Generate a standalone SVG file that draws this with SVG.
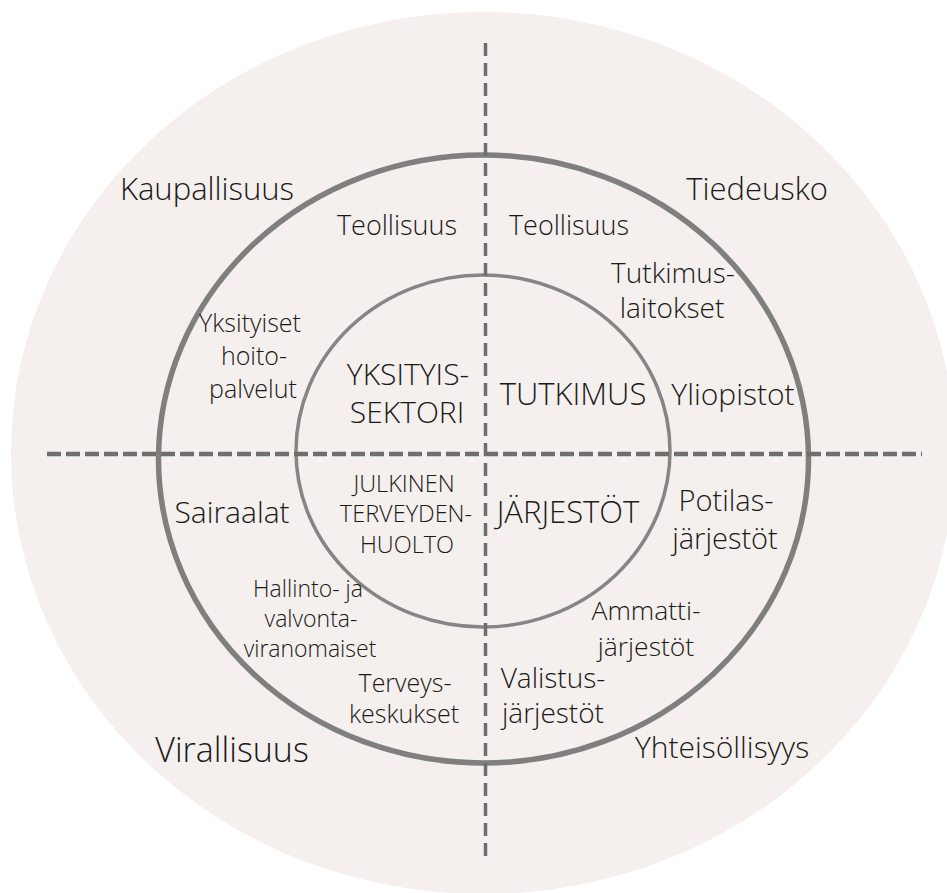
<svg xmlns="http://www.w3.org/2000/svg" width="947" height="893" viewBox="0 0 947 893">
<style>
text{font-family:"Open Sans","Liberation Sans",sans-serif;font-weight:300;fill:#1a1a1a;text-anchor:middle}
.xl{font-size:31px}
.big{font-size:30px}
.b29{font-size:29px}
.mid{font-size:28px}
.m27{font-size:27px}
.m26{font-size:26.5px}
.sm{font-size:25px}
.sm2{font-size:23px}
.cap{font-size:23.5px}
.dv{stroke:#6e6e6e;stroke-width:3.5;stroke-dasharray:13 7;fill:none}
.dh{stroke:#6e6e6e;stroke-width:4.5;stroke-dasharray:14 5;fill:none}
</style>
<rect width="947" height="893" fill="#ffffff"/>
<g id="background"><ellipse cx="483" cy="453" rx="472" ry="441" fill="#f5efed"/></g>
<g id="outer-ring"><ellipse cx="483.5" cy="459" rx="325" ry="304" fill="none" stroke="#7f7f7f" stroke-width="5.5"/></g>
<g id="inner-ring"><ellipse cx="483" cy="451" rx="187" ry="176" fill="none" stroke="#858585" stroke-width="3.5"/></g>
<g id="connectors">
<line class="dv" x1="485.5" y1="43" x2="485.5" y2="858"/>
<line class="dh" x1="47" y1="454" x2="922" y2="454"/>
</g>
<g id="corner-labels">
<text class="xl" x="207" y="200">Kaupallisuus</text>
<text class="xl" x="757" y="200">Tiedeusko</text>
<text style="font-size:34px" x="232" y="762">Virallisuus</text>
<text class="big" x="722" y="758">Yhteisöllisyys</text>
</g>
<g id="q1-outer">
<text class="m27" x="397" y="235">Teollisuus</text>
<text class="sm" x="250" y="332">Yksityiset</text>
<text class="sm" x="254" y="365">hoito-</text>
<text class="sm" x="253" y="398">palvelut</text>
</g>
<g id="q2-outer">
<text class="m27" x="569" y="235">Teollisuus</text>
<text class="mid" x="673" y="283">Tutkimus-</text>
<text class="mid" x="672" y="318">laitokset</text>
<text class="big" x="733" y="405">Yliopistot</text>
</g>
<g id="center">
<text class="big" x="408" y="385">YKSITYIS-</text>
<text class="big" x="407" y="423">SEKTORI</text>
<text class="xl" x="573" y="405">TUTKIMUS</text>
<text class="cap" x="404" y="492">JULKINEN</text>
<text class="cap" x="406" y="522">TERVEYDEN-</text>
<text class="cap" x="407" y="553">HUOLTO</text>
<text class="xl" x="568" y="523">JÄRJESTÖT</text>
</g>
<g id="q3-outer">
<text class="big" x="232" y="523">Sairaalat</text>
<text class="sm2" x="308" y="597">Hallinto- ja</text>
<text class="sm2" x="311" y="627">valvonta-</text>
<text class="sm2" x="310" y="657">viranomaiset</text>
<text class="sm" x="405" y="692">Terveys-</text>
<text class="sm" x="404" y="723">keskukset</text>
</g>
<g id="q4-outer">
<text class="b29" x="726" y="511">Potilas-</text>
<text class="b29" x="725" y="549">järjestöt</text>
<text class="m26" x="646" y="620">Ammatti-</text>
<text class="m26" x="646" y="656">järjestöt</text>
<text class="mid" x="553" y="688">Valistus-</text>
<text class="mid" x="553" y="723">järjestöt</text>
</g>
</svg>
